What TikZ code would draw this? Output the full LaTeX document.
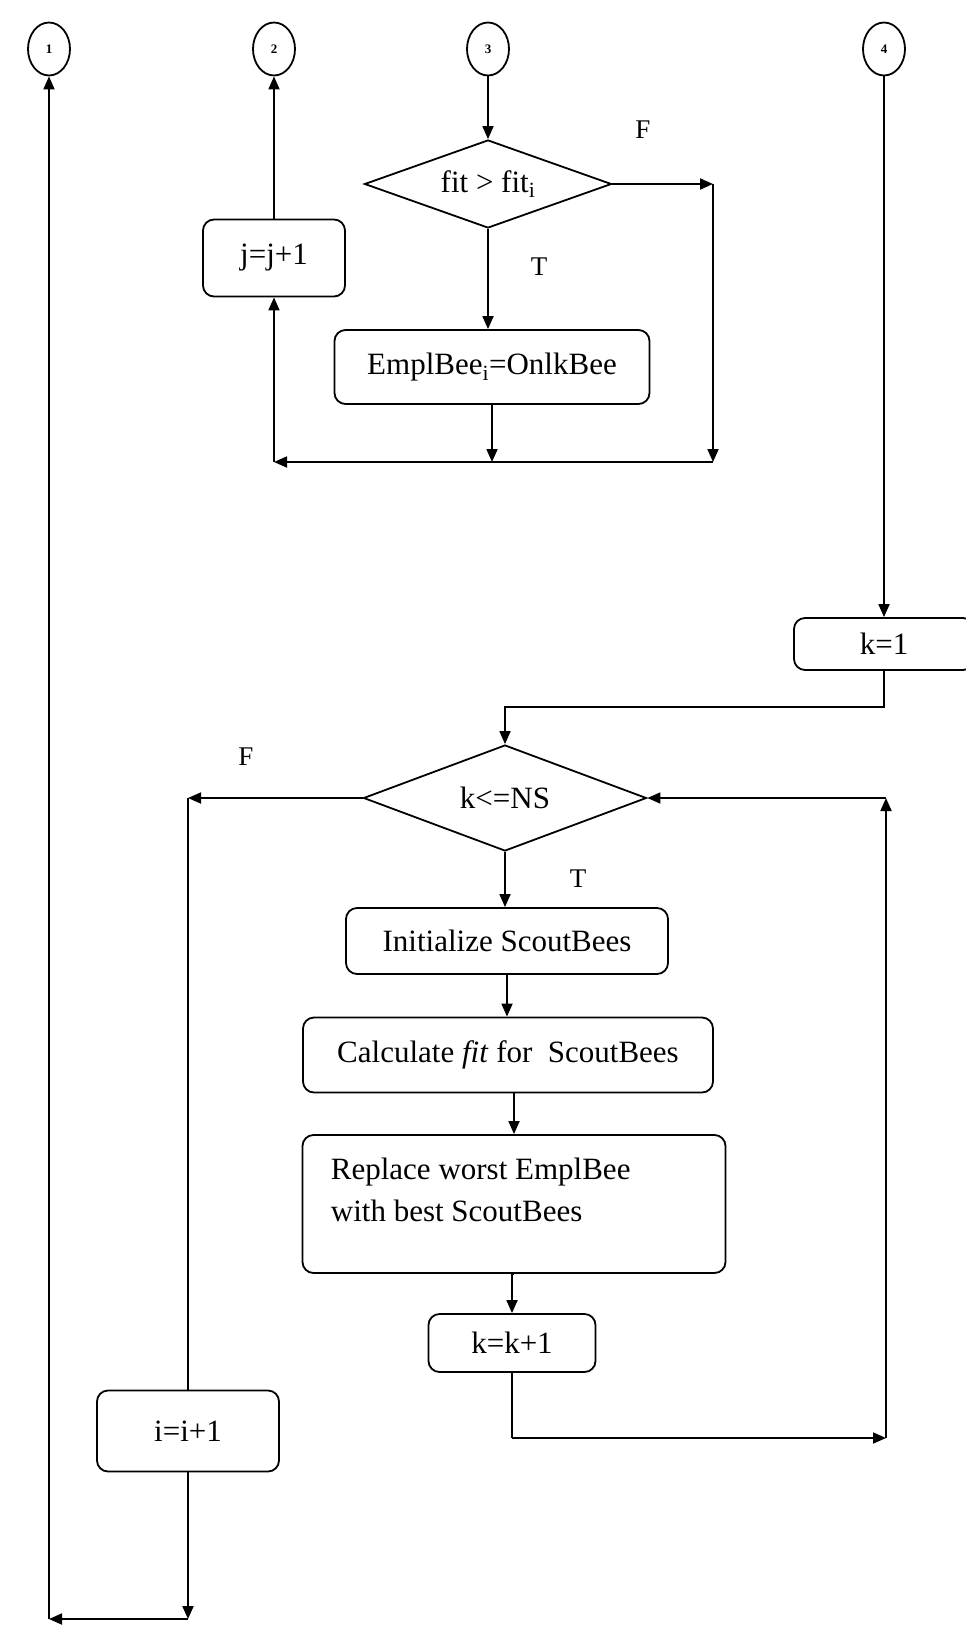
\documentclass[tikz,border=0pt]{standalone}
\usepackage{fontspec}
\setmainfont{Liberation Serif}
\usetikzlibrary{arrows.meta,shapes.geometric}
\begin{document}
\begin{tikzpicture}[x=1pt,y=-1pt,
  line width=1.8pt,
  arr/.style={-{Triangle[length=13pt,width=11pt]}},
  box/.style={draw,rounded corners=11pt,inner sep=0pt,font=\fontsize{31}{36}\selectfont},
  dec/.style={draw,diamond,inner sep=0pt},
  dtext/.style={font=\fontsize{31}{36}\selectfont,inner sep=0pt},
  conn/.style={draw,ellipse,inner sep=0pt,minimum width=42pt,minimum height=53pt,font=\fontsize{13}{15}\selectfont\bfseries},
  lbl/.style={font=\fontsize{27}{30}\selectfont,inner sep=0pt}]
\useasboundingbox (0,0) rectangle (966,1625);
\clip (0,0) rectangle (966,1625);

% connectors (off-page)
\node[conn] (c1) at (49,49) {1};
\node[conn] (c2) at (274,49) {2};
\node[conn] (c3) at (488,49) {3};
\node[conn] (c4) at (884,49) {4};

% upper part
\node[dec,minimum width=247pt,minimum height=88pt] (d1) at (488,184) {};
\node[dtext] (d1t) at (d1) {fit > fit\textsubscript{i}};
\node[lbl] (f1) at (643,130) {F};
\node[lbl] (t1) at (539,267) {T};
\node[box,minimum width=315pt,minimum height=74pt] (e) at (492,367) {EmplBee\textsubscript{i}=OnlkBee};
\node[box,minimum width=142pt,minimum height=77pt] (j) at (274,258) {j=j+1\hspace{14pt}};

\coordinate (cF1) at (713,184);
\coordinate (cB1) at (713,462);
\coordinate (cB2) at (274,462);

\draw[arr] (c3.south) -- (d1.north);
\draw[arr] (d1.south) -- (d1.south |- e.north);
\draw[arr] (d1.east) -- (cF1);
\draw[arr] (cF1) -- (cB1);
\draw[arr] (e.south) -- (e.south |- cB1);
\draw[arr] (cB1) -- (cB2);
\draw[arr] (cB2) -- (j.south);
\draw[arr] (j.north) -- (c2.south);

% lower part
\node[box,minimum width=180pt,minimum height=52pt] (k1) at (884,644) {k=1};
\node[dec,minimum width=283pt,minimum height=106pt] (d2) at (505,798) {};
\node[dtext] (d2t) at (d2) {k<=NS};
\node[lbl] (f2) at (246,757) {F};
\node[lbl] (t2) at (578,879) {T};
\node[box,minimum width=322pt,minimum height=66pt] (init) at (507,941) {Initialize ScoutBees};
\node[box,minimum width=410pt,minimum height=75pt] (calc) at (508,1055) {Calculate \textit{fit} for\ \ ScoutBees};
\node[box,minimum width=423pt,minimum height=138pt] (repl) at (514,1204) {};
\node[dtext,anchor=north west,align=left,font=\fontsize{31}{42}\selectfont] (replt) at (330,1157) {Replace worst EmplBee\\with best ScoutBees};
\node[box,minimum width=167pt,minimum height=58pt] (kk) at (512,1343) {k=k+1};
\node[box,minimum width=182pt,minimum height=81pt] (ii) at (188,1431) {i=i+1};

\coordinate (cK1) at (884,707);
\coordinate (cK2) at (505,707);
\coordinate (cL) at (188,798);
\coordinate (cR0) at (512,1438);
\coordinate (cR1) at (886,1438);
\coordinate (cR2) at (886,798);
\coordinate (cBot1) at (188,1619);
\coordinate (cBot2) at (49,1619);

\draw[arr] (c4.south) -- (k1.north);
\draw[arr] (k1.south) -- (cK1) -- (cK2) -- (d2.north);
\draw[arr] (d2.west) -- (cL);
\draw (cL) -- (ii.north);
\draw[arr] (d2.south) -- (d2.south |- init.north);
\draw[arr] (init.south) -- (init.south |- calc.north);
\draw[arr] (calc.south -| repl.north) -- (repl.north);
\draw[arr] (repl.south) -- (repl.south -| kk.north) -- (kk.north);
\draw (kk.south) -- (cR0);
\draw[arr] (cR0) -- (cR1);
\draw[arr] (cR1) -- (cR2);
\draw[arr] (cR2) -- (d2.east);
\draw[arr] (ii.south) -- (cBot1);
\draw[arr] (cBot1) -- (cBot2);
\draw[arr] (cBot2) -- (c1.south);
\end{tikzpicture}
\end{document}
